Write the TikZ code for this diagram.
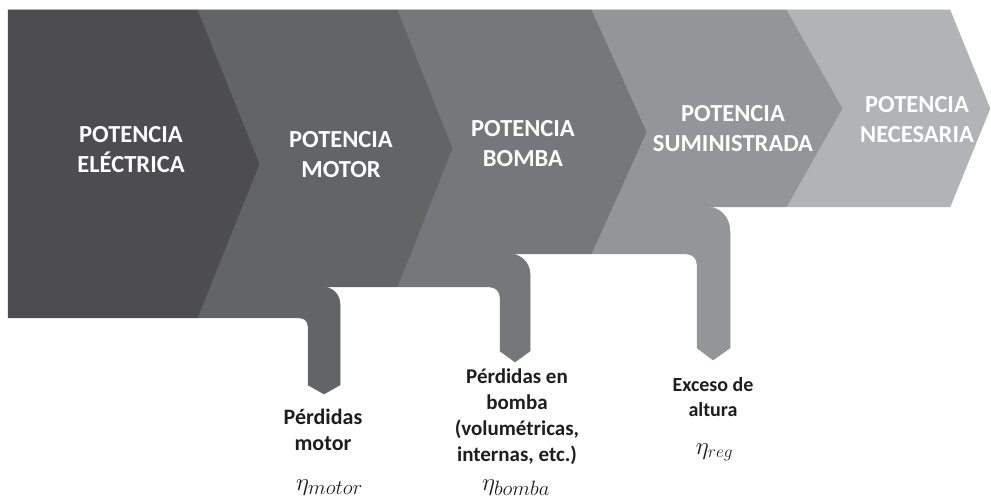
\documentclass[tikz,border=0pt]{standalone}
\usepackage{fontspec}
\setmainfont{Carlito}
\definecolor{gA}{HTML}{4D4D4F}
\definecolor{gB}{HTML}{636466}
\definecolor{gC}{HTML}{76777A}
\definecolor{gD}{HTML}{939598}
\definecolor{gE}{HTML}{B1B3B6}
\definecolor{ink}{HTML}{1E1E1E}
\begin{document}
\begin{tikzpicture}[x=1pt,y=-1pt,
  piece/.style={fill=#1, draw=#1, line width=0.5pt, line join=round},
  title/.style={text=white, font=\bfseries\fontsize{24.5}{30}\selectfont, align=center, inner sep=0pt, anchor=base},
  lbl/.style={text=ink, font=\bfseries\fontsize{22}{26}\selectfont, align=center, inner sep=0pt, anchor=base},
  eta/.style={text=ink, inner sep=0pt, anchor=base}]
\useasboundingbox (0,0) rectangle (991,502);
% chevron pieces
\path[piece=gA] (8,10) -- (198,10) -- (260,164) -- (198,318) -- (8,318) -- cycle;
\path[piece=gB] (198,10) -- (398,10) -- (453,148.5) -- (398,287) -- (323,287)
  .. controls (332.4,287) and (340,294.6) .. (340,304) -- (340,385) -- (324,394) -- (308,385) -- (308,326)
  .. controls (308,321.6) and (304.4,318) .. (300,318) -- (198,318) -- (260,164) -- cycle;
\path[piece=gC] (398,10) -- (592,10) -- (647,132) -- (592,254) -- (510,254)
  .. controls (521,254) and (530,263) .. (530,274) -- (530,351) -- (515,362) -- (500,351) -- (500,297)
  .. controls (500,291.5) and (495.5,287) .. (490,287) -- (398,287) -- (453,148.5) -- cycle;
\path[piece=gD] (592,10) -- (787,10) -- (843,108.5) -- (787,207) -- (707,207)
  .. controls (720,207) and (730,217) .. (730,232) -- (730,348) -- (713,360) -- (697,348) -- (697,264)
  .. controls (697,258.5) and (692.5,254) .. (687,254) -- (592,254) -- (647,132) -- cycle;
\path[piece=gE] (787,10) -- (950,10) -- (990,108.5) -- (950,207) -- (787,207) -- (843,108.5) -- cycle;
% titles (anchor = baseline of last line)
\node[title] (t1) at (131,173) {POTENCIA\\ELÉCTRICA};
\node[title] (t2) at (341,178) {POTENCIA\\MOTOR};
\node[title] (t3) at (523,167) {POTENCIA\\BOMBA};
\node[title] (t4) at (733,152) {POTENCIA\\SUMINISTRADA};
\node[title] (t5) at (917,143) {POTENCIA\\NECESARIA};
% loss labels
\node[lbl] (l1) at (323,450) {Pérdidas\\motor};
\node[lbl, font=\bfseries\fontsize{21}{25.7}\selectfont] (l2) at (517,461) {Pérdidas en\\bomba\\(volumétricas,\\internas, etc.)};
\node[lbl, font=\bfseries\fontsize{20}{25}\selectfont] (l3) at (713,417) {Exceso de\\altura};
\node[eta, font=\fontsize{28}{32}\selectfont] (e1) at (329.5,490) {$\eta_{motor}$};
\node[eta, font=\fontsize{30}{34}\selectfont] (e2) at (516,490) {$\eta_{bomba}$};
\node[eta, font=\fontsize{25}{29}\selectfont] (e3) at (714.5,454) {$\eta_{reg}$};
\end{tikzpicture}
\end{document}
